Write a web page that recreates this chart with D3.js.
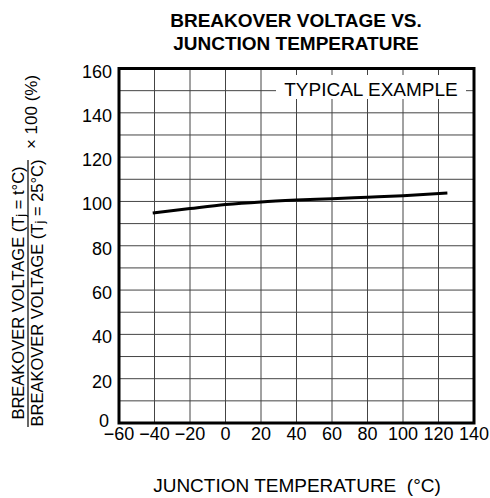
<!DOCTYPE html>
<html>
<head>
<meta charset="utf-8">
<script src="https://cdn.jsdelivr.net/npm/d3@7"></script>
<style>
  body { margin: 0; background: #fff; }
  text { font-family: Arial, "Liberation Sans", sans-serif; fill: #000; }
</style>
</head>
<body>
<div class="container-chart"></div>
<script>
/* data */
const temps = [-41, -20, 0, 20, 40, 60, 80, 100, 125];
const ratio = [94.8, 96.8, 98.6, 99.8, 100.6, 101.2, 101.9, 102.6, 103.8];
const xTicks = [-60, -40, -20, 0, 20, 40, 60, 80, 100, 120, 140];
const yTicks = [0, 20, 40, 60, 80, 100, 120, 140, 160];
const yGrid = d3.range(10, 160, 10);

const width = 490, height = 498;
const plot = { left: 119, right: 474, top: 68.5, bottom: 423 };

const svg = d3.select(".container-chart")
    .append("svg")
    .attr("width", width)
    .attr("height", height);

const x = d3.scaleLinear().domain([-60, 140]).range([plot.left, plot.right]);
const y = d3.scaleLinear().domain([0, 160]).range([plot.bottom, plot.top]);

// grid
const grid = svg.append("g").attr("stroke", "#444").attr("stroke-width", 1);
grid.selectAll(".vx")
    .data(xTicks.slice(1, -1))
    .enter().append("line")
    .attr("x1", d => x(d)).attr("x2", d => x(d))
    .attr("y1", plot.top).attr("y2", plot.bottom);
grid.selectAll(".hy")
    .data(yGrid)
    .enter().append("line")
    .attr("x1", plot.left).attr("x2", plot.right)
    .attr("y1", d => y(d)).attr("y2", d => y(d));

// "TYPICAL EXAMPLE" label box knocks out the grid
svg.append("rect")
    .attr("x", 276).attr("y", 75)
    .attr("width", 190).attr("height", 24)
    .attr("fill", "#fff");
svg.append("text")
    .attr("x", 371).attr("y", 96)
    .attr("text-anchor", "middle")
    .style("font-size", "19px")
    .text("TYPICAL EXAMPLE");

// frame
svg.append("rect")
    .attr("x", plot.left).attr("y", plot.top)
    .attr("width", plot.right - plot.left)
    .attr("height", plot.bottom - plot.top)
    .attr("fill", "none")
    .attr("stroke", "#000")
    .attr("stroke-width", 3);

// curve
const line = d3.line()
    .curve(d3.curveMonotoneX)
    .x((d, i) => x(temps[i]))
    .y(d => y(d));

svg.append("path")
    .datum(ratio)
    .attr("d", line)
    .attr("fill", "none")
    .attr("stroke", "#000")
    .attr("stroke-width", 3);

// tick labels
const fmt = d3.format("d");
svg.selectAll(".xt")
    .data(xTicks)
    .enter().append("text")
    .attr("x", d => x(d))
    .attr("y", 440)
    .attr("text-anchor", "middle")
    .style("font-size", "18px")
    .text(d => fmt(d));

svg.selectAll(".yt")
    .data(yTicks)
    .enter().append("text")
    .attr("x", d => d === 0 ? 109 : 112)
    .attr("y", d => d === 0 ? y(d) + 4 : y(d) + 9)
    .attr("text-anchor", "end")
    .style("font-size", "18px")
    .text(d => d);

// title
svg.append("text")
    .attr("x", 296).attr("y", 27)
    .attr("text-anchor", "middle")
    .style("font-size", "19px").style("font-weight", "bold")
    .text("BREAKOVER VOLTAGE VS.");
svg.append("text")
    .attr("x", 296).attr("y", 49.5)
    .attr("text-anchor", "middle")
    .style("font-size", "19px").style("font-weight", "bold")
    .text("JUNCTION TEMPERATURE");

// x axis title
svg.append("text")
    .attr("x", 297).attr("y", 492)
    .attr("text-anchor", "middle")
    .style("font-size", "19px")
    .text("JUNCTION TEMPERATURE \u00a0(\u00b0C)");

// y axis title: fraction
function fracText(xPos, tj) {
    const t = svg.append("text")
        .attr("transform", `translate(${xPos},293) rotate(-90)`)
        .attr("text-anchor", "middle")
        .style("font-size", "16.5px");
    t.append("tspan").text("BREAKOVER VOLTAGE (T");
    t.append("tspan").style("font-size", "13px").attr("dy", 1).text("j");
    t.append("tspan").attr("dy", -1).text(" = " + tj + ")");
}
fracText(23.5, "t\u00b0C");
fracText(43, "25\u00b0C");

svg.append("line")
    .attr("x1", 28).attr("x2", 28)
    .attr("y1", 160).attr("y2", 427)
    .attr("stroke", "#000").attr("stroke-width", 1.2);

svg.append("text")
    .attr("transform", "translate(37,112) rotate(-90)")
    .attr("text-anchor", "middle")
    .style("font-size", "17px")
    .text("\u00d7 100 (%)");
</script>
</body>
</html>
